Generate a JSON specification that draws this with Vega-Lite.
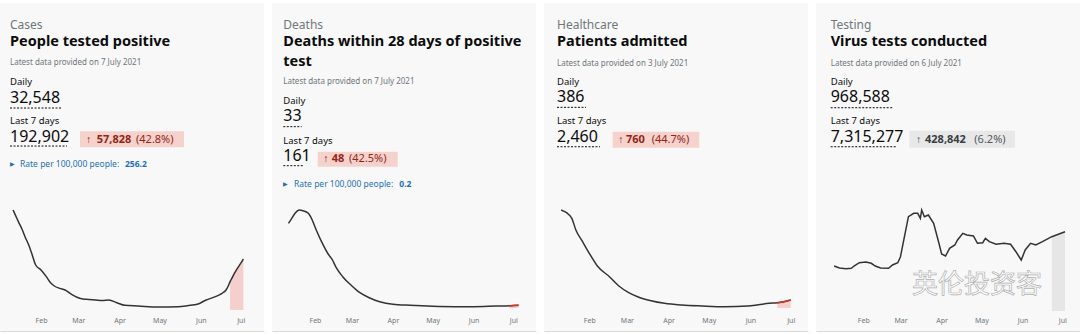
{
"$schema": "https://vega.github.io/schema/vega-lite/v6.json",
"padding": {"left": 0, "right": 0, "top": 3, "bottom": 3},
"background": "#ffffff",
"spacing": 8,
"config": {
  "view": {"fill": "#f8f8f8", "stroke": null},
  "font": "Noto Sans",
  "scale": {"pointPadding": 0},
  "axisX": {"ticks": false, "labelPadding": -11, "labelBaseline": "middle", "labelFontSize": 7, "labelFont": "Noto Sans", "labelColor": "#6f777b", "domainColor": "#d9d9d9", "domainWidth": 1, "grid": false, "labelFlush": false, "labelOverlap": false}
},
"hconcat": [
{
  "width": 264, "height": 328,
  "resolve": {"scale": {"x": "independent", "y": "independent"}},
  "layer": [
    {
      "data": {"format": {"parse": {"date": "date:'%Y-%m-%d'"}}, "values": [
        {"date":"2021-01-11","value":60000,"recent":false},
        {"date":"2021-01-13","value":56500,"recent":false},
        {"date":"2021-01-15","value":53000,"recent":false},
        {"date":"2021-01-18","value":48000,"recent":false},
        {"date":"2021-01-20","value":44000,"recent":false},
        {"date":"2021-01-23","value":38500,"recent":false},
        {"date":"2021-01-25","value":34000,"recent":false},
        {"date":"2021-01-28","value":27000,"recent":false},
        {"date":"2021-02-01","value":24000,"recent":false},
        {"date":"2021-02-05","value":20000,"recent":false},
        {"date":"2021-02-08","value":16500,"recent":false},
        {"date":"2021-02-11","value":14400,"recent":false},
        {"date":"2021-02-15","value":13000,"recent":false},
        {"date":"2021-02-19","value":12000,"recent":false},
        {"date":"2021-02-24","value":9400,"recent":false},
        {"date":"2021-03-02","value":7000,"recent":false},
        {"date":"2021-03-07","value":6400,"recent":false},
        {"date":"2021-03-14","value":6000,"recent":false},
        {"date":"2021-03-19","value":5700,"recent":false},
        {"date":"2021-03-24","value":6000,"recent":false},
        {"date":"2021-03-30","value":4400,"recent":false},
        {"date":"2021-04-05","value":2800,"recent":false},
        {"date":"2021-04-15","value":2400,"recent":false},
        {"date":"2021-04-30","value":1800,"recent":false},
        {"date":"2021-05-15","value":2000,"recent":false},
        {"date":"2021-05-22","value":2600,"recent":false},
        {"date":"2021-05-30","value":3600,"recent":false},
        {"date":"2021-06-05","value":6000,"recent":false},
        {"date":"2021-06-12","value":8000,"recent":false},
        {"date":"2021-06-17","value":10000,"recent":false},
        {"date":"2021-06-20","value":12000,"recent":false},
        {"date":"2021-06-22","value":15000,"recent":false},
        {"date":"2021-06-23","value":17000,"recent":true},
        {"date":"2021-06-25","value":20000,"recent":true},
        {"date":"2021-06-27","value":23000,"recent":true},
        {"date":"2021-06-29","value":25600,"recent":true},
        {"date":"2021-07-01","value":28000,"recent":true},
        {"date":"2021-07-03","value":30600,"recent":true}
      ]},
      "encoding": {
        "x": {"field": "date", "type": "temporal", "scale": {"domain": [{"year":2021,"month":1,"date":1,"hours":4,"minutes":48},{"year":2021,"month":7,"date":18,"hours":12}]},
              "axis": {"title": null, "format": "%b", "values": [{"year":2021,"month":2,"date":1},{"year":2021,"month":3,"date":1},{"year":2021,"month":4,"date":1},{"year":2021,"month":5,"date":1},{"year":2021,"month":6,"date":1},{"year":2021,"month":7,"date":1}]}},
        "y": {"field": "value", "type": "quantitative", "scale": {"domain": [0, 60000], "range": [307, 207], "nice": false, "zero": false}, "axis": null}
      },
      "layer": [
        {"transform": [{"filter": "datum.recent"}], "mark": {"type": "area", "color": "#f5cfcb", "interpolate": "monotone"}},
        {"mark": {"type": "line", "color": "#333333", "strokeWidth": 1.5, "interpolate": "monotone"}}
      ]
    },
    {
      "data": {"values": [
        {"block":"category","col":"value","kind":"category","text":"Cases"},
        {"block":"headline","col":"value","kind":"headline","text":"People tested positive"},
        {"block":"updated","col":"value","kind":"updated","text":"Latest data provided on 7 July 2021"},
        {"block":"dailyLabel","col":"value","kind":"label","text":"Daily"},
        {"block":"daily","col":"value","kind":"value","text":"32,548"},
        {"block":"weekLabel","col":"value","kind":"label","text":"Last 7 days"},
        {"block":"week","col":"value","kind":"value","text":"192,902"},
        {"block":"week","col":"change","kind":"arrow","text":"↑"},
        {"block":"week","col":"change","kind":"change","text":"57,828"},
        {"block":"week","col":"change","kind":"changePct","text":"(42.8%)"},
        {"block":"rate","col":"value","kind":"rateIcon","text":"▶"},
        {"block":"rate","col":"value","kind":"rateLabel","text":"Rate per 100,000 people:"},
        {"block":"rate","col":"value","kind":"rateValue","text":"256.2"}
      ]},
      "encoding": {
        "x": {"field": "col", "type": "nominal", "scale": {"type": "point", "domain": ["value","change"], "range": [10, 86], "padding": 0}, "axis": null},
        "y": {"field": "block", "type": "nominal", "scale": {"type": "point", "domain": ["category","headline","updated","dailyLabel","daily","weekLabel","week","rate"], "range": [22, 161], "padding": 0}, "axis": null}
      },
      "layer": [
        {"transform": [{"filter": "datum.kind === 'arrow'"}], "mark": {"type": "rule", "strokeWidth": 16, "strokeCap": "butt", "color": "#f6d2cd", "xOffset": -6, "x2Offset": 98, "yOffset": -4.8}, "encoding": {"x2": {"field": "col"}}},
        {"transform": [{"filter": "datum.kind === 'value' && datum.block === 'daily'"}], "mark": {"type": "rule", "strokeDash": [2, 1.5], "strokeWidth": 1, "color": "#0b0c0c", "x2Offset": 51, "yOffset": 3.6}, "encoding": {"x2": {"field": "col"}}},
        {"transform": [{"filter": "datum.kind === 'value' && datum.block === 'week'"}], "mark": {"type": "rule", "strokeDash": [2, 1.5], "strokeWidth": 1, "color": "#0b0c0c", "x2Offset": 57, "yOffset": 1.9}, "encoding": {"x2": {"field": "col"}}},
        {"transform": [{"filter": "datum.kind === 'category'"}], "mark": {"type": "text", "align": "left", "baseline": "middle", "fontSize": 12, "color": "#6f777b"}, "encoding": {"text": {"field": "text"}}},
        {"transform": [{"filter": "datum.kind === 'headline'"}], "mark": {"type": "text", "align": "left", "baseline": "middle", "fontSize": 14.5, "fontWeight": "bold", "color": "#0b0c0c", "dy": -2.9}, "encoding": {"text": {"field": "text"}}},
        {"transform": [{"filter": "datum.kind === 'updated'"}], "mark": {"type": "text", "align": "left", "baseline": "middle", "fontSize": 8, "color": "#6f777b", "dy": -1.7}, "encoding": {"text": {"field": "text"}}},
        {"transform": [{"filter": "datum.kind === 'label'"}], "mark": {"type": "text", "align": "left", "baseline": "middle", "fontSize": 9.5, "color": "#0b0c0c", "dy": -3}, "encoding": {"text": {"field": "text"}}},
        {"transform": [{"filter": "datum.kind === 'value'"}], "mark": {"type": "text", "align": "left", "baseline": "middle", "fontSize": 16, "color": "#0b0c0c", "dy": -6.8}, "encoding": {"text": {"field": "text"}}},
        {"transform": [{"filter": "datum.kind === 'arrow'"}], "mark": {"type": "text", "align": "left", "baseline": "middle", "fontSize": 10.5, "color": "#942514", "dy": -4.6}, "encoding": {"text": {"field": "text"}}},
        {"transform": [{"filter": "datum.kind === 'change'"}], "mark": {"type": "text", "align": "left", "baseline": "middle", "fontSize": 11, "fontWeight": "bold", "color": "#942514", "dx": 10.7, "dy": -4.6}, "encoding": {"text": {"field": "text"}}},
        {"transform": [{"filter": "datum.kind === 'changePct'"}], "mark": {"type": "text", "align": "left", "baseline": "middle", "fontSize": 11, "letterSpacing": 0.5, "color": "#942514", "dx": 50, "dy": -4.6}, "encoding": {"text": {"field": "text"}}},
        {"transform": [{"filter": "datum.kind === 'rateIcon'"}], "mark": {"type": "text", "align": "left", "baseline": "middle", "fontSize": 6, "color": "#1d70b8"}, "encoding": {"text": {"field": "text"}}},
        {"transform": [{"filter": "datum.kind === 'rateLabel'"}], "mark": {"type": "text", "align": "left", "baseline": "middle", "fontSize": 8.5, "color": "#1d70b8", "dx": 10}, "encoding": {"text": {"field": "text"}}},
        {"transform": [{"filter": "datum.kind === 'rateValue'"}], "mark": {"type": "text", "align": "left", "baseline": "middle", "fontSize": 8.5, "fontWeight": "bold", "color": "#1d70b8", "dx": 115}, "encoding": {"text": {"field": "text"}}}
      ]
    }
  ]
},
{
  "width": 264, "height": 328,
  "resolve": {"scale": {"x": "independent", "y": "independent"}},
  "layer": [
    {
      "data": {"format": {"parse": {"date": "date:'%Y-%m-%d'"}}, "values": [
        {"date":"2021-01-12","value":1080,"recent":false},
        {"date":"2021-01-14","value":1131,"recent":false},
        {"date":"2021-01-17","value":1208,"recent":false},
        {"date":"2021-01-20","value":1250,"recent":false},
        {"date":"2021-01-23","value":1241,"recent":false},
        {"date":"2021-01-27","value":1208,"recent":false},
        {"date":"2021-01-29","value":1157,"recent":false},
        {"date":"2021-02-02","value":995,"recent":false},
        {"date":"2021-02-06","value":846,"recent":false},
        {"date":"2021-02-11","value":689,"recent":false},
        {"date":"2021-02-14","value":620,"recent":false},
        {"date":"2021-02-17","value":519,"recent":false},
        {"date":"2021-02-22","value":399,"recent":false},
        {"date":"2021-03-01","value":281,"recent":false},
        {"date":"2021-03-07","value":195,"recent":false},
        {"date":"2021-03-15","value":124,"recent":false},
        {"date":"2021-03-22","value":80,"recent":false},
        {"date":"2021-04-01","value":47,"recent":false},
        {"date":"2021-04-14","value":34,"recent":false},
        {"date":"2021-05-01","value":22,"recent":false},
        {"date":"2021-05-18","value":17,"recent":false},
        {"date":"2021-06-01","value":17,"recent":false},
        {"date":"2021-06-18","value":24,"recent":false},
        {"date":"2021-06-28","value":28,"recent":true},
        {"date":"2021-07-01","value":31,"recent":true},
        {"date":"2021-07-05","value":34,"recent":true}
      ]},
      "encoding": {
        "x": {"field": "date", "type": "temporal", "scale": {"domain": [{"year":2020,"month":12,"date":30,"hours":12,"minutes":43},{"year":2021,"month":7,"date":18,"hours":5}]},
              "axis": {"title": null, "format": "%b", "values": [{"year":2021,"month":2,"date":1},{"year":2021,"month":3,"date":1},{"year":2021,"month":4,"date":1},{"year":2021,"month":5,"date":1},{"year":2021,"month":6,"date":1},{"year":2021,"month":7,"date":1}]}},
        "y": {"field": "value", "type": "quantitative", "scale": {"domain": [0, 1250], "range": [305, 207], "nice": false, "zero": false}, "axis": null}
      },
      "layer": [
        {"transform": [{"filter": "datum.recent"}], "mark": {"type": "area", "color": "#f5cfcb", "interpolate": "monotone"}},
        {"mark": {"type": "line", "color": "#333333", "strokeWidth": 1.5, "interpolate": "monotone"}},
        {"transform": [{"filter": "datum.recent"}], "mark": {"type": "line", "color": "#d4351c", "strokeWidth": 1.5, "interpolate": "monotone"}}
      ]
    },
    {
      "data": {"values": [
        {"block":"category","col":"value","kind":"category","text":"Deaths"},
        {"block":"headline","col":"value","kind":"headline","text":"Deaths within 28 days of positive"},
        {"block":"headline2","col":"value","kind":"headline","text":"test"},
        {"block":"updated","col":"value","kind":"updated","text":"Latest data provided on 7 July 2021"},
        {"block":"dailyLabel","col":"value","kind":"label","text":"Daily"},
        {"block":"daily","col":"value","kind":"value","text":"33"},
        {"block":"weekLabel","col":"value","kind":"label","text":"Last 7 days"},
        {"block":"week","col":"value","kind":"value","text":"161"},
        {"block":"week","col":"change","kind":"arrow","text":"↑"},
        {"block":"week","col":"change","kind":"change","text":"48"},
        {"block":"week","col":"change","kind":"changePct","text":"(42.5%)"},
        {"block":"rate","col":"value","kind":"rateIcon","text":"▶"},
        {"block":"rate","col":"value","kind":"rateLabel","text":"Rate per 100,000 people:"},
        {"block":"rate","col":"value","kind":"rateValue","text":"0.2"}
      ]},
      "encoding": {
        "x": {"field": "col", "type": "nominal", "scale": {"type": "point", "domain": ["value","change"], "range": [11.3, 51.3], "padding": 0}, "axis": null},
        "y": {"field": "block", "type": "nominal", "scale": {"type": "point", "domain": ["category","headline","headline2","updated","dailyLabel","daily","weekLabel","week","rate"], "range": [22, 181.3], "padding": 0}, "axis": null}
      },
      "layer": [
        {"transform": [{"filter": "datum.kind === 'arrow'"}], "mark": {"type": "rule", "strokeWidth": 15, "strokeCap": "butt", "color": "#f6d2cd", "xOffset": -5.6, "x2Offset": 74.4, "yOffset": -5.2}, "encoding": {"x2": {"field": "col"}}},
        {"transform": [{"filter": "datum.kind === 'value' && datum.block === 'daily'"}], "mark": {"type": "rule", "strokeDash": [2, 1.5], "strokeWidth": 1, "color": "#0b0c0c", "x2Offset": 18.4, "yOffset": 2.1}, "encoding": {"x2": {"field": "col"}}},
        {"transform": [{"filter": "datum.kind === 'value' && datum.block === 'week'"}], "mark": {"type": "rule", "strokeDash": [2, 1.5], "strokeWidth": 1, "color": "#0b0c0c", "x2Offset": 20, "yOffset": 1.3}, "encoding": {"x2": {"field": "col"}}},
        {"transform": [{"filter": "datum.kind === 'category'"}], "mark": {"type": "text", "align": "left", "baseline": "middle", "fontSize": 12, "color": "#6f777b"}, "encoding": {"text": {"field": "text"}}},
        {"transform": [{"filter": "datum.kind === 'headline'"}], "mark": {"type": "text", "align": "left", "baseline": "middle", "fontSize": 14.5, "fontWeight": "bold", "color": "#0b0c0c", "dy": -3.2}, "encoding": {"text": {"field": "text"}}},
        {"transform": [{"filter": "datum.kind === 'updated'"}], "mark": {"type": "text", "align": "left", "baseline": "middle", "fontSize": 8, "color": "#6f777b", "dy": -2.4}, "encoding": {"text": {"field": "text"}}},
        {"transform": [{"filter": "datum.kind === 'label'"}], "mark": {"type": "text", "align": "left", "baseline": "middle", "fontSize": 9.5, "color": "#0b0c0c", "dy": -3.9}, "encoding": {"text": {"field": "text"}}},
        {"transform": [{"filter": "datum.kind === 'value'"}], "mark": {"type": "text", "align": "left", "baseline": "middle", "fontSize": 16, "color": "#0b0c0c", "dy": -8.1}, "encoding": {"text": {"field": "text"}}},
        {"transform": [{"filter": "datum.kind === 'arrow'"}], "mark": {"type": "text", "align": "left", "baseline": "middle", "fontSize": 10.5, "color": "#942514", "dy": -5}, "encoding": {"text": {"field": "text"}}},
        {"transform": [{"filter": "datum.kind === 'change'"}], "mark": {"type": "text", "align": "left", "baseline": "middle", "fontSize": 11, "fontWeight": "bold", "color": "#942514", "dx": 8.4, "dy": -5}, "encoding": {"text": {"field": "text"}}},
        {"transform": [{"filter": "datum.kind === 'changePct'"}], "mark": {"type": "text", "align": "left", "baseline": "middle", "fontSize": 11, "letterSpacing": 0.5, "color": "#942514", "dx": 25.7, "dy": -5}, "encoding": {"text": {"field": "text"}}},
        {"transform": [{"filter": "datum.kind === 'rateIcon'"}], "mark": {"type": "text", "align": "left", "baseline": "middle", "fontSize": 6, "color": "#1d70b8"}, "encoding": {"text": {"field": "text"}}},
        {"transform": [{"filter": "datum.kind === 'rateLabel'"}], "mark": {"type": "text", "align": "left", "baseline": "middle", "fontSize": 8.5, "color": "#1d70b8", "dx": 10.7}, "encoding": {"text": {"field": "text"}}},
        {"transform": [{"filter": "datum.kind === 'rateValue'"}], "mark": {"type": "text", "align": "left", "baseline": "middle", "fontSize": 8.5, "fontWeight": "bold", "color": "#1d70b8", "dx": 116}, "encoding": {"text": {"field": "text"}}}
      ]
    }
  ]
},
{
  "width": 264, "height": 328,
  "resolve": {"scale": {"x": "independent", "y": "independent"}},
  "layer": [
    {
      "data": {"format": {"parse": {"date": "date:'%Y-%m-%d'"}}, "values": [
        {"date":"2021-01-11","value":4000,"recent":false},
        {"date":"2021-01-15","value":3890,"recent":false},
        {"date":"2021-01-19","value":3661,"recent":false},
        {"date":"2021-01-22","value":3184,"recent":false},
        {"date":"2021-01-27","value":2706,"recent":false},
        {"date":"2021-02-01","value":2233,"recent":false},
        {"date":"2021-02-07","value":1714,"recent":false},
        {"date":"2021-02-16","value":1278,"recent":false},
        {"date":"2021-02-23","value":898,"recent":false},
        {"date":"2021-03-02","value":641,"recent":false},
        {"date":"2021-03-09","value":461,"recent":false},
        {"date":"2021-03-19","value":298,"recent":false},
        {"date":"2021-03-29","value":192,"recent":false},
        {"date":"2021-04-11","value":122,"recent":false},
        {"date":"2021-04-26","value":82,"recent":false},
        {"date":"2021-05-13","value":53,"recent":false},
        {"date":"2021-05-30","value":82,"recent":false},
        {"date":"2021-06-07","value":135,"recent":false},
        {"date":"2021-06-15","value":192,"recent":false},
        {"date":"2021-06-21","value":214,"recent":true},
        {"date":"2021-06-26","value":257,"recent":true},
        {"date":"2021-07-01","value":327,"recent":true}
      ]},
      "encoding": {
        "x": {"field": "date", "type": "temporal", "scale": {"domain": [{"year":2020,"month":12,"date":29,"hours":6,"minutes":14},{"year":2021,"month":7,"date":13,"hours":21,"minutes":30}]},
              "axis": {"title": null, "format": "%b", "values": [{"year":2021,"month":2,"date":1},{"year":2021,"month":3,"date":1},{"year":2021,"month":4,"date":1},{"year":2021,"month":5,"date":1},{"year":2021,"month":6,"date":1},{"year":2021,"month":7,"date":1}]}},
        "y": {"field": "value", "type": "quantitative", "scale": {"domain": [0, 4000], "range": [305, 207], "nice": false, "zero": false}, "axis": null}
      },
      "layer": [
        {"transform": [{"filter": "datum.recent"}], "mark": {"type": "area", "color": "#f5cfcb", "interpolate": "monotone"}},
        {"mark": {"type": "line", "color": "#333333", "strokeWidth": 1.5, "interpolate": "monotone"}},
        {"transform": [{"filter": "datum.recent"}], "mark": {"type": "line", "color": "#d4351c", "strokeWidth": 1.5, "interpolate": "monotone"}}
      ]
    },
    {
      "data": {"values": [
        {"block":"category","col":"value","kind":"category","text":"Healthcare"},
        {"block":"headline","col":"value","kind":"headline","text":"Patients admitted"},
        {"block":"updated","col":"value","kind":"updated","text":"Latest data provided on 3 July 2021"},
        {"block":"dailyLabel","col":"value","kind":"label","text":"Daily"},
        {"block":"daily","col":"value","kind":"value","text":"386"},
        {"block":"weekLabel","col":"value","kind":"label","text":"Last 7 days"},
        {"block":"week","col":"value","kind":"value","text":"2,460"},
        {"block":"week","col":"change","kind":"arrow","text":"↑"},
        {"block":"week","col":"change","kind":"change","text":"760"},
        {"block":"week","col":"change","kind":"changePct","text":"(44.7%)"}
      ]},
      "encoding": {
        "x": {"field": "col", "type": "nominal", "scale": {"type": "point", "domain": ["value","change"], "range": [13, 74.3], "padding": 0}, "axis": null},
        "y": {"field": "block", "type": "nominal", "scale": {"type": "point", "domain": ["category","headline","updated","dailyLabel","daily","weekLabel","week","rate"], "range": [22, 161], "padding": 0}, "axis": null}
      },
      "layer": [
        {"transform": [{"filter": "datum.kind === 'arrow'"}], "mark": {"type": "rule", "strokeWidth": 16, "strokeCap": "butt", "color": "#f6d2cd", "xOffset": -5.6, "x2Offset": 81, "yOffset": -4.4}, "encoding": {"x2": {"field": "col"}}},
        {"transform": [{"filter": "datum.kind === 'value' && datum.block === 'daily'"}], "mark": {"type": "rule", "strokeDash": [2, 1.5], "strokeWidth": 1, "color": "#0b0c0c", "x2Offset": 29, "yOffset": 2.9}, "encoding": {"x2": {"field": "col"}}},
        {"transform": [{"filter": "datum.kind === 'value' && datum.block === 'week'"}], "mark": {"type": "rule", "strokeDash": [2, 1.5], "strokeWidth": 1, "color": "#0b0c0c", "x2Offset": 43, "yOffset": 2.6}, "encoding": {"x2": {"field": "col"}}},
        {"transform": [{"filter": "datum.kind === 'category'"}], "mark": {"type": "text", "align": "left", "baseline": "middle", "fontSize": 12, "color": "#6f777b"}, "encoding": {"text": {"field": "text"}}},
        {"transform": [{"filter": "datum.kind === 'headline'"}], "mark": {"type": "text", "align": "left", "baseline": "middle", "fontSize": 14.5, "fontWeight": "bold", "color": "#0b0c0c", "dy": -2.7}, "encoding": {"text": {"field": "text"}}},
        {"transform": [{"filter": "datum.kind === 'updated'"}], "mark": {"type": "text", "align": "left", "baseline": "middle", "fontSize": 8, "color": "#6f777b", "dy": -1}, "encoding": {"text": {"field": "text"}}},
        {"transform": [{"filter": "datum.kind === 'label'"}], "mark": {"type": "text", "align": "left", "baseline": "middle", "fontSize": 9.5, "color": "#0b0c0c", "dy": -3}, "encoding": {"text": {"field": "text"}}},
        {"transform": [{"filter": "datum.kind === 'value'"}], "mark": {"type": "text", "align": "left", "baseline": "middle", "fontSize": 16, "color": "#0b0c0c", "dy": -7}, "encoding": {"text": {"field": "text"}}},
        {"transform": [{"filter": "datum.kind === 'arrow'"}], "mark": {"type": "text", "align": "left", "baseline": "middle", "fontSize": 10.5, "color": "#942514", "dy": -4.4}, "encoding": {"text": {"field": "text"}}},
        {"transform": [{"filter": "datum.kind === 'change'"}], "mark": {"type": "text", "align": "left", "baseline": "middle", "fontSize": 11, "fontWeight": "bold", "color": "#942514", "dx": 7.7, "dy": -4.4}, "encoding": {"text": {"field": "text"}}},
        {"transform": [{"filter": "datum.kind === 'changePct'"}], "mark": {"type": "text", "align": "left", "baseline": "middle", "fontSize": 11, "letterSpacing": 0.5, "color": "#942514", "dx": 33.4, "dy": -4.4}, "encoding": {"text": {"field": "text"}}}
      ]
    }
  ]
},
{
  "width": 264, "height": 328,
  "resolve": {"scale": {"x": "independent", "y": "independent"}},
  "layer": [
    {
      "data": {"format": {"parse": {"date": "date:'%Y-%m-%d'"}}, "values": [
        {"date":"2021-01-10","value":720000,"recent":false},
        {"date":"2021-01-14","value":688000,"recent":false},
        {"date":"2021-01-19","value":677000,"recent":false},
        {"date":"2021-01-23","value":683000,"recent":false},
        {"date":"2021-01-25","value":720000,"recent":false},
        {"date":"2021-01-29","value":773000,"recent":false},
        {"date":"2021-02-03","value":784000,"recent":false},
        {"date":"2021-02-07","value":763000,"recent":false},
        {"date":"2021-02-10","value":720000,"recent":false},
        {"date":"2021-02-14","value":688000,"recent":false},
        {"date":"2021-02-20","value":683000,"recent":false},
        {"date":"2021-02-23","value":736000,"recent":false},
        {"date":"2021-02-27","value":773000,"recent":false},
        {"date":"2021-03-01","value":869000,"recent":false},
        {"date":"2021-03-04","value":1189000,"recent":false},
        {"date":"2021-03-07","value":1509000,"recent":false},
        {"date":"2021-03-11","value":1563000,"recent":false},
        {"date":"2021-03-14","value":1563000,"recent":false},
        {"date":"2021-03-16","value":1483000,"recent":false},
        {"date":"2021-03-17","value":1616000,"recent":false},
        {"date":"2021-03-19","value":1509000,"recent":false},
        {"date":"2021-03-22","value":1536000,"recent":false},
        {"date":"2021-03-26","value":1403000,"recent":false},
        {"date":"2021-03-30","value":1083000,"recent":false},
        {"date":"2021-04-01","value":912000,"recent":false},
        {"date":"2021-04-04","value":880000,"recent":false},
        {"date":"2021-04-07","value":1003000,"recent":false},
        {"date":"2021-04-11","value":1056000,"recent":false},
        {"date":"2021-04-13","value":1136000,"recent":false},
        {"date":"2021-04-17","value":1243000,"recent":false},
        {"date":"2021-04-20","value":1216000,"recent":false},
        {"date":"2021-04-25","value":1200000,"recent":false},
        {"date":"2021-04-28","value":1083000,"recent":false},
        {"date":"2021-05-02","value":1093000,"recent":false},
        {"date":"2021-05-04","value":1163000,"recent":false},
        {"date":"2021-05-07","value":1109000,"recent":false},
        {"date":"2021-05-12","value":1067000,"recent":false},
        {"date":"2021-05-18","value":1083000,"recent":false},
        {"date":"2021-05-23","value":1067000,"recent":false},
        {"date":"2021-05-27","value":949000,"recent":false},
        {"date":"2021-05-31","value":816000,"recent":false},
        {"date":"2021-06-03","value":976000,"recent":false},
        {"date":"2021-06-07","value":1083000,"recent":false},
        {"date":"2021-06-11","value":1056000,"recent":false},
        {"date":"2021-06-16","value":1109000,"recent":false},
        {"date":"2021-06-23","value":1189000,"recent":true},
        {"date":"2021-06-28","value":1228000,"recent":true},
        {"date":"2021-07-03","value":1269000,"recent":true}
      ]},
      "encoding": {
        "x": {"field": "date", "type": "temporal", "scale": {"domain": [{"year":2020,"month":12,"date":27,"hours":8,"minutes":24},{"year":2021,"month":7,"date":14,"hours":7}]},
              "axis": {"title": null, "format": "%b", "values": [{"year":2021,"month":2,"date":1},{"year":2021,"month":3,"date":1},{"year":2021,"month":4,"date":1},{"year":2021,"month":5,"date":1},{"year":2021,"month":6,"date":1},{"year":2021,"month":7,"date":1}]}},
        "y": {"field": "value", "type": "quantitative", "scale": {"domain": [0, 1600000], "range": [308, 208], "nice": false, "zero": false}, "axis": null}
      },
      "layer": [
        {"transform": [{"filter": "datum.recent"}], "mark": {"type": "area", "color": "#e6e6e6"}},
        {"mark": {"type": "line", "color": "#333333", "strokeWidth": 1.5}}
      ]
    },
    {
      "data": {"values": [
        {"block":"category","col":"value","kind":"category","text":"Testing"},
        {"block":"headline","col":"value","kind":"headline","text":"Virus tests conducted"},
        {"block":"updated","col":"value","kind":"updated","text":"Latest data provided on 6 July 2021"},
        {"block":"dailyLabel","col":"value","kind":"label","text":"Daily"},
        {"block":"daily","col":"value","kind":"value","text":"968,588"},
        {"block":"weekLabel","col":"value","kind":"label","text":"Last 7 days"},
        {"block":"week","col":"value","kind":"value","text":"7,315,277"},
        {"block":"week","col":"change","kind":"arrow","text":"↑"},
        {"block":"week","col":"change","kind":"change","text":"428,842"},
        {"block":"week","col":"change","kind":"changePct","text":"(6.2%)"},
        {"block":"rate","col":"change","kind":"watermark","text":"英伦投资客"}
      ]},
      "encoding": {
        "x": {"field": "col", "type": "nominal", "scale": {"type": "point", "domain": ["value","change"], "range": [14.7, 100], "padding": 0}, "axis": null},
        "y": {"field": "block", "type": "nominal", "scale": {"type": "point", "domain": ["category","headline","updated","dailyLabel","daily","weekLabel","week","rate"], "range": [22, 161], "padding": 0}, "axis": null}
      },
      "layer": [
        {"transform": [{"filter": "datum.kind === 'arrow'"}], "mark": {"type": "rule", "strokeWidth": 17, "strokeCap": "butt", "color": "#e8e8e8", "xOffset": -6.7, "x2Offset": 99, "yOffset": -4.8}, "encoding": {"x2": {"field": "col"}}},
        {"transform": [{"filter": "datum.kind === 'value' && datum.block === 'daily'"}], "mark": {"type": "rule", "strokeDash": [2, 1.5], "strokeWidth": 1, "color": "#0b0c0c", "x2Offset": 62, "yOffset": 3.3}, "encoding": {"x2": {"field": "col"}}},
        {"transform": [{"filter": "datum.kind === 'value' && datum.block === 'week'"}], "mark": {"type": "rule", "strokeDash": [2, 1.5], "strokeWidth": 1, "color": "#0b0c0c", "x2Offset": 65, "yOffset": 2.6}, "encoding": {"x2": {"field": "col"}}},
        {"transform": [{"filter": "datum.kind === 'category'"}], "mark": {"type": "text", "align": "left", "baseline": "middle", "fontSize": 12, "color": "#6f777b"}, "encoding": {"text": {"field": "text"}}},
        {"transform": [{"filter": "datum.kind === 'headline'"}], "mark": {"type": "text", "align": "left", "baseline": "middle", "fontSize": 14.5, "fontWeight": "bold", "color": "#0b0c0c", "dy": -3}, "encoding": {"text": {"field": "text"}}},
        {"transform": [{"filter": "datum.kind === 'updated'"}], "mark": {"type": "text", "align": "left", "baseline": "middle", "fontSize": 8, "color": "#6f777b", "dy": -1}, "encoding": {"text": {"field": "text"}}},
        {"transform": [{"filter": "datum.kind === 'label'"}], "mark": {"type": "text", "align": "left", "baseline": "middle", "fontSize": 9.5, "color": "#0b0c0c", "dy": -3}, "encoding": {"text": {"field": "text"}}},
        {"transform": [{"filter": "datum.kind === 'value'"}], "mark": {"type": "text", "align": "left", "baseline": "middle", "fontSize": 16, "color": "#0b0c0c", "dy": -7}, "encoding": {"text": {"field": "text"}}},
        {"transform": [{"filter": "datum.kind === 'arrow'"}], "mark": {"type": "text", "align": "left", "baseline": "middle", "fontSize": 10.5, "color": "#505a5f", "dy": -4.6}, "encoding": {"text": {"field": "text"}}},
        {"transform": [{"filter": "datum.kind === 'change'"}], "mark": {"type": "text", "align": "left", "baseline": "middle", "fontSize": 11, "fontWeight": "bold", "color": "#383f43", "dx": 9, "dy": -4.6}, "encoding": {"text": {"field": "text"}}},
        {"transform": [{"filter": "datum.kind === 'changePct'"}], "mark": {"type": "text", "align": "left", "baseline": "middle", "fontSize": 11, "letterSpacing": 0.5, "color": "#505a5f", "dx": 58.3, "dy": -4.6}, "encoding": {"text": {"field": "text"}}},
        {"transform": [{"filter": "datum.kind === 'watermark'"}], "mark": {"type": "text", "align": "center", "baseline": "middle", "font": "Noto Sans CJK SC", "fontSize": 26, "fill": "#ffffff", "stroke": "#b0b0b0", "strokeWidth": 0.7, "dx": 61, "dy": 121}, "encoding": {"text": {"field": "text"}}}
      ]
    }
  ]
}
]
}
